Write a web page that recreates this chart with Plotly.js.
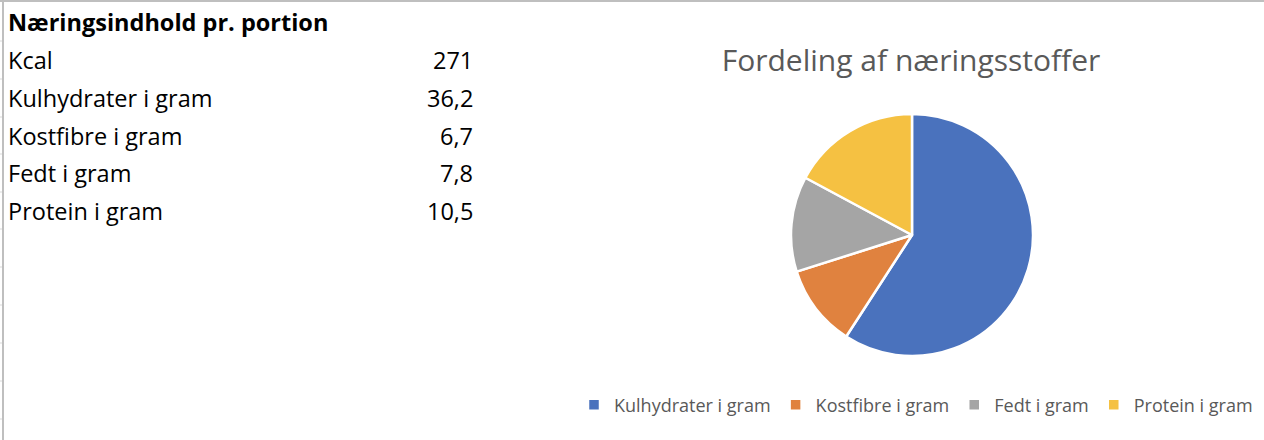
<!DOCTYPE html>
<html>
<head>
<meta charset="utf-8">
<script src="https://cdn.plot.ly/plotly-3.0.1.min.js"></script>
<style>
  html, body { margin: 0; padding: 0; background: #ffffff; }
  #chart { width: 1264px; height: 440px; }
</style>
</head>
<body>
<div id="chart"></div>
<script>
// ---- data ----
const tableHeader = "Næringsindhold pr. portion";
const rowLabels = ["Kcal", "Kulhydrater i gram", "Kostfibre i gram", "Fedt i gram", "Protein i gram"];
const rowValues = [271, 36.2, 6.7, 7.8, 10.5];
const pieCategories = ["Kulhydrater i gram", "Kostfibre i gram", "Fedt i gram", "Protein i gram"];
const pieValues = [36.2, 6.7, 7.8, 10.5];
const pieColors = ["#4a72bd", "#e0823f", "#a5a5a5", "#f5c142"];
const chartTitle = "Fordeling af næringsstoffer";

const W = 1264, H = 440;
const px = x => x / W;
const py = y => 1 - y / H;
const fmt = v => String(v).replace('.', ',');

const FONT = "'Open Sans', Lato, sans-serif";

// ---- table as annotations ----
const annotations = [];
const rowY = [22, 60, 98, 136, 173, 211];
annotations.push({
  xref: 'paper', yref: 'paper', x: px(6), y: py(rowY[0]),
  xanchor: 'left', yanchor: 'middle', showarrow: false,
  text: '<b>' + tableHeader + '</b>',
  font: { family: FONT, size: 23.5, color: '#000000' }
});
rowLabels.forEach((lab, i) => {
  annotations.push({
    xref: 'paper', yref: 'paper', x: px(6), y: py(rowY[i + 1]),
    xanchor: 'left', yanchor: 'middle', showarrow: false,
    text: lab, font: { family: FONT, size: 23.5, color: '#000000' }
  });
  annotations.push({
    xref: 'paper', yref: 'paper', x: px(475), y: py(rowY[i + 1]),
    xanchor: 'right', yanchor: 'middle', showarrow: false,
    text: fmt(rowValues[i]), font: { family: FONT, size: 23.5, color: '#000000' }
  });
});

// ---- sheet borders / gridline stubs ----
const shapes = [
  { type: 'line', xref: 'paper', yref: 'paper', x0: 0, x1: 1, y0: py(1), y1: py(1),
    line: { color: '#bfbfbf', width: 2 } },
  { type: 'line', xref: 'paper', yref: 'paper', x0: px(3), x1: px(3), y0: 0, y1: 1,
    line: { color: '#bfbfbf', width: 2 } }
];
[41, 79, 117, 154, 192, 229, 267, 305, 343, 381, 419].forEach(y => {
  shapes.push({ type: 'line', xref: 'paper', yref: 'paper', x0: 0, x1: px(2), y0: py(y), y1: py(y),
    line: { color: '#d9d9d9', width: 1 } });
});

const trace = {
  type: 'pie',
  labels: pieCategories,
  values: pieValues,
  sort: false,
  direction: 'clockwise',
  rotation: 0,
  textinfo: 'none',
  hoverinfo: 'label+value+percent',
  marker: { colors: pieColors, line: { color: '#ffffff', width: 2.5 } },
  domain: { x: [px(791), px(1033)], y: [py(356), py(114)] }
};

const layout = {
  width: W, height: H,
  margin: { l: 0, r: 0, t: 0, b: 0 },
  paper_bgcolor: '#ffffff',
  plot_bgcolor: '#ffffff',
  title: {
    text: chartTitle,
    xref: 'paper', yref: 'paper', x: px(911), y: py(60),
    xanchor: 'center', yanchor: 'middle',
    font: { family: FONT, size: 30, color: '#595959' }
  },
  showlegend: true,
  legend: {
    orientation: 'h',
    xref: 'paper', yref: 'paper',
    x: px(916), xanchor: 'center',
    y: py(405), yanchor: 'middle',
    font: { family: FONT, size: 18, color: '#595959' },
    itemclick: false, itemdoubleclick: false
  },
  annotations: annotations,
  shapes: shapes
};

Plotly.newPlot('chart', [trace], layout, { displayModeBar: false, staticPlot: true });
</script>
</body>
</html>
